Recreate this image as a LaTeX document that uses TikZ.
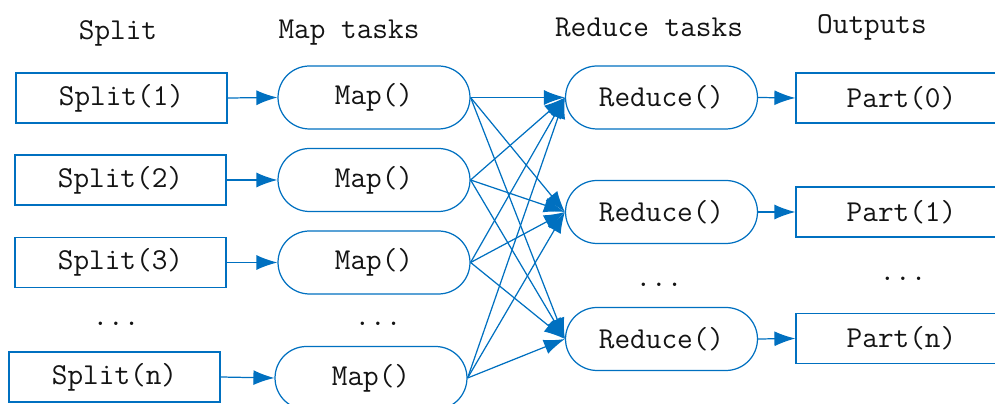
\documentclass[tikz,border=0pt]{standalone}
\usepackage{tikz}
\usetikzlibrary{shapes.misc,arrows.meta}
\definecolor{flowblue}{RGB}{0,112,192}
\definecolor{inkgray}{RGB}{20,20,20}
\tikzset{
  every node/.style={font=\ttfamily\fontsize{17.3}{20}\selectfont,text=inkgray},
  splitbox/.style={draw=flowblue,line width=0.7pt,rectangle,minimum width=4.22cm,minimum height=1cm,inner sep=0pt},
  taskbox/.style={draw=flowblue,line width=0.7pt,rounded rectangle,minimum width=3.84cm,minimum height=1.26cm,inner sep=0pt},
  flow/.style={draw=flowblue,line width=0.7pt,-{Latex[length=0.42cm,width=0.3cm]}},
}

\begin{document}
\begin{tikzpicture}[x=0.02cm,y=-0.02cm]
\useasboundingbox (0,0) rectangle (995,404);
\clip (0,0) rectangle (995,404);
% column titles
\node (tsplit) at (118,33) {Split};
\node (tmap) at (349,33) {Map tasks};
\node (treduce) at (649,27) {Reduce tasks};
\node (tout) at (872,27) {Outputs};
% splits
\node[splitbox] (s1) at (121.5,98) {Split(1)};
\node[splitbox] (s2) at (120.5,180) {Split(2)};
\node[splitbox] (s3) at (120.5,262.5) {Split(3)};
\node (sdots) at (116,324) {...};
\node[splitbox] (sn) at (114.5,377) {Split(n)};
% map tasks
\node[taskbox] (m1) at (374,97.5) {Map()};
\node[taskbox] (m2) at (374,180) {Map()};
\node[taskbox] (m3) at (374,262.5) {Map()};
\node (mdots) at (378,324) {...};
\node[taskbox] (mn) at (371,378) {Map()};
% reduce tasks
\node[taskbox] (r1) at (661.5,97.5) {Reduce()};
\node[taskbox] (r2) at (661.5,212) {Reduce()};
\node (rdots) at (659,285) {...};
\node[taskbox] (rn) at (661.5,339) {Reduce()};
% outputs
\node[splitbox] (p0) at (901.5,98) {Part(0)};
\node[splitbox] (p1) at (901.5,212) {Part(1)};
\node (pdots) at (903,279) {...};
\node[splitbox] (pn) at (901.5,338.5) {Part(n)};
% split -> map
\draw[flow] (s1.east) -- (m1.west);
\draw[flow] (s2.east) -- (m2.west);
\draw[flow] (s3.east) -- (m3.west);
\draw[flow] (sn.east) -- (mn.west);
% map -> reduce
\draw[flow] (m1.east) -- (r1.west);
\draw[flow] (m1.east) -- (r2.west);
\draw[flow] (m1.east) -- (rn.west);
\draw[flow] (m2.east) -- (r1.west);
\draw[flow] (m2.east) -- (r2.west);
\draw[flow] (m2.east) -- (rn.west);
\draw[flow] (m3.east) -- (r1.west);
\draw[flow] (m3.east) -- (r2.west);
\draw[flow] (m3.east) -- (rn.west);
\draw[flow] (mn.east) -- (r1.west);
\draw[flow] (mn.east) -- (r2.west);
\draw[flow] (mn.east) -- (rn.west);
% reduce -> outputs
\draw[flow] (r1.east) -- (p0.west);
\draw[flow] (r2.east) -- (p1.west);
\draw[flow] (rn.east) -- (pn.west);
\end{tikzpicture}
\end{document}
